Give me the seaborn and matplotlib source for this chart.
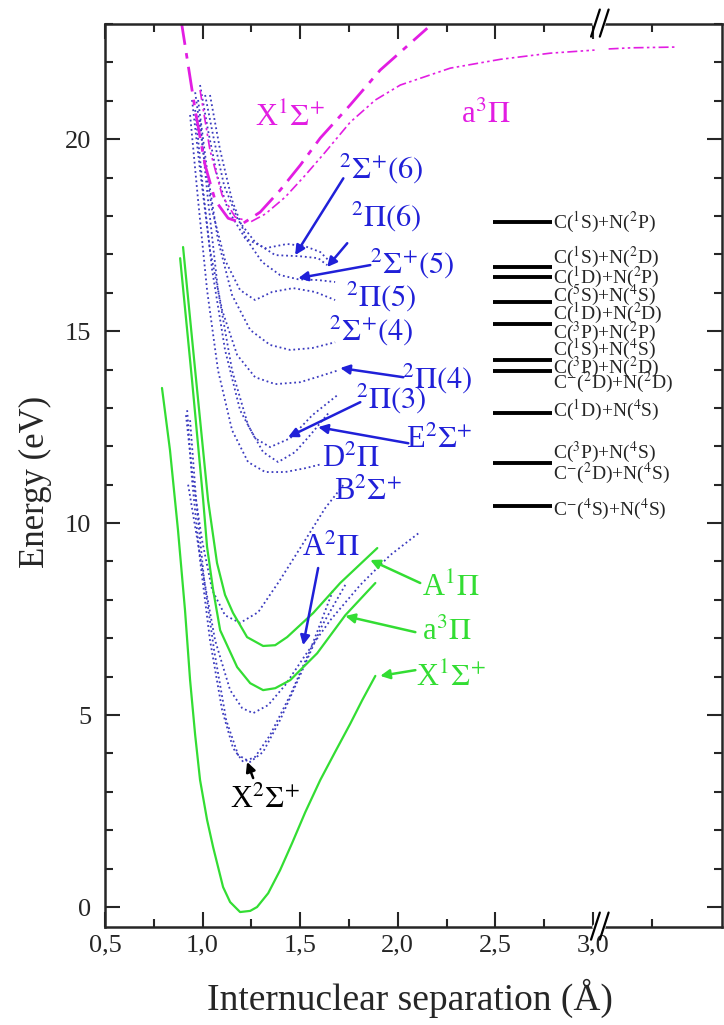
import matplotlib
matplotlib.use("Agg")
import matplotlib.pyplot as plt
import matplotlib.transforms as mtransforms
from matplotlib.ticker import FixedLocator, FixedFormatter, MultipleLocator
import seaborn as sns

# ---- neutral CN (green, solid) ----
x1s_r = [0.792, 0.833, 0.874, 0.910, 0.936, 0.962, 0.987, 1.023, 1.054, 1.105, 1.141, 1.192,
         1.244, 1.279, 1.336, 1.397, 1.459, 1.526, 1.603, 1.679, 1.756, 1.818, 1.885]
x1s_e = [13.52, 11.90, 9.82, 7.73, 5.91, 4.48, 3.31, 2.27, 1.56, 0.52, 0.13, -0.13,
         -0.10, 0.00, 0.36, 0.96, 1.67, 2.47, 3.31, 4.04, 4.77, 5.39, 6.02]
a1p_r = [0.900, 0.962, 1.028, 1.074, 1.115, 1.156, 1.228, 1.310, 1.372, 1.433, 1.567, 1.705, 1.895]
a1p_e = [17.19, 13.98, 10.60, 8.96, 8.13, 7.66, 7.03, 6.80, 6.82, 7.03, 7.66, 8.44, 9.35]
a3p_r = [0.885, 0.946, 1.003, 1.023, 1.054, 1.090, 1.177, 1.244, 1.310, 1.372, 1.449, 1.587, 1.731, 1.885]
a3p_e = [16.90, 13.72, 10.60, 9.38, 8.26, 7.21, 6.25, 5.83, 5.65, 5.70, 5.91, 6.61, 7.60, 8.44]

# ---- magenta curves ----
mx_r = [0.890, 0.962, 1.013, 1.064, 1.131, 1.208, 1.295, 1.397, 1.500, 1.603, 1.756, 1.910, 2.151]
mx_e = [23.10, 20.76, 19.32, 18.41, 17.94, 17.81, 18.10, 18.67, 19.32, 20.03, 20.89, 21.80, 22.89]
ma_r = [0.987, 1.038, 1.100, 1.167, 1.244, 1.321, 1.423, 1.526, 1.628, 1.756, 1.885, 2.013, 2.269, 2.526, 2.782, 3.008]
ma_e = [21.28, 19.71, 18.54, 17.97, 17.84, 18.05, 18.49, 19.06, 19.66, 20.44, 21.02, 21.41, 21.85, 22.08, 22.24, 22.32]
ma_tail_r = [3.080, 3.200, 3.320, 3.433]
ma_tail_e = [22.35, 22.38, 22.39, 22.40]

# ---- anion states (blue, dotted) ----
blue_curves = {
    "S6": ([0.987, 1.028, 1.074, 1.131, 1.218, 1.321, 1.433, 1.526, 1.603, 1.654],
           [21.41, 20.23, 19.06, 18.15, 17.42, 17.16, 17.27, 17.21, 17.06, 16.80]),
    "P6": ([1.013, 1.059, 1.110, 1.182, 1.269, 1.372, 1.500, 1.592, 1.638],
           [21.15, 19.97, 18.80, 17.89, 17.32, 16.98, 16.95, 16.90, 16.72]),
    "S5": ([1.038, 1.090, 1.151, 1.228, 1.305, 1.397, 1.490, 1.592, 1.679],
           [21.15, 19.71, 18.41, 17.37, 16.80, 16.46, 16.35, 16.33, 16.28]),
    "P5": ([0.962, 1.003, 1.049, 1.115, 1.192, 1.269, 1.356, 1.464, 1.577, 1.679],
           [21.22, 19.71, 18.15, 16.85, 16.07, 15.81, 16.02, 16.12, 16.02, 15.81]),
    "S4": ([0.977, 1.023, 1.079, 1.151, 1.244, 1.346, 1.449, 1.562, 1.679],
           [21.02, 19.19, 17.37, 15.94, 15.03, 14.64, 14.51, 14.56, 14.71]),
    "P4": ([0.946, 0.987, 1.038, 1.100, 1.177, 1.269, 1.372, 1.500, 1.603, 1.695],
           [21.02, 19.19, 17.11, 15.55, 14.38, 13.80, 13.62, 13.67, 13.83, 13.98]),
    "P3": ([0.962, 1.003, 1.049, 1.115, 1.192, 1.269, 1.346, 1.449, 1.562, 1.690],
           [20.76, 18.67, 16.59, 14.51, 12.94, 12.21, 11.98, 12.21, 12.81, 13.33]),
    "E": ([0.987, 1.028, 1.079, 1.151, 1.233, 1.310, 1.387, 1.474, 1.551, 1.644],
          [20.50, 18.41, 16.07, 13.98, 12.55, 11.85, 11.59, 11.85, 12.29, 12.86]),
    "D": ([0.936, 0.977, 1.023, 1.079, 1.151, 1.233, 1.321, 1.423, 1.526, 1.613],
          [20.63, 18.41, 16.07, 13.98, 12.42, 11.59, 11.33, 11.33, 11.43, 11.54]),
    "B": ([0.915, 0.951, 0.997, 1.049, 1.115, 1.192, 1.285, 1.397, 1.526, 1.628, 1.721],
          [12.81, 11.12, 9.56, 8.26, 7.60, 7.40, 7.68, 8.52, 9.56, 10.39, 10.99]),
    "A": ([0.926, 0.962, 1.008, 1.064, 1.141, 1.203, 1.259, 1.336, 1.423, 1.526, 1.654, 1.808, 1.962, 2.115],
          [11.00, 9.90, 8.52, 6.95, 5.65, 5.18, 5.05, 5.26, 5.78, 6.56, 7.47, 8.39, 9.17, 9.77]),
    "Xa": ([0.921, 0.946, 0.987, 1.038, 1.100, 1.156, 1.208, 1.269, 1.346, 1.449, 1.551, 1.669],
           [12.94, 11.12, 9.04, 6.95, 5.13, 4.14, 3.78, 3.91, 4.48, 5.52, 6.69, 8.26]),
    "Xb": ([0.936, 0.967, 1.008, 1.059, 1.121, 1.182, 1.244, 1.310, 1.397, 1.500, 1.613, 1.731],
           [12.68, 10.60, 8.52, 6.69, 4.87, 3.96, 3.78, 4.04, 4.87, 6.04, 7.34, 8.39]),
}

# ---- dissociation limits ----
limit_e = [17.84, 16.67, 16.41, 15.76, 15.18, 14.24, 13.96, 12.86, 11.56, 10.45]
limit_r0, limit_r1 = 2.49, 2.79
limit_labels = [r"C($^1$S)+N($^2$P)", r"C($^1$S)+N($^2$D)", r"C($^1$D)+N($^2$P)",
                r"C($^5$S)+N($^4$S)", r"C($^1$D)+N($^2$D)", r"C($^3$P)+N($^2$P)",
                r"C($^1$S)+N($^4$S)", r"C($^3$P)+N($^2$D)", r"C$^{-}$($^2$D)+N($^2$D)",
                r"C($^1$D)+N($^4$S)", r"C($^3$P)+N($^4$S)", r"C$^{-}$($^2$D)+N($^4$S)",
                r"C$^{-}$($^4$S)+N($^4$S)"]
limit_label_e = [17.84, 16.93, 16.41, 15.94, 15.47, 14.97, 14.51, 14.06, 13.67,
                 12.94, 11.85, 11.30, 10.36]

x_ticks = [0.5, 1.0, 1.5, 2.0, 2.5, 3.0]
x_ticklabels = ["0,5", "1,0", "1,5", "2,0", "2,5", "3,0"]
x_minor = [0.75, 1.25, 1.75, 2.25, 2.75, 3.3]
y_ticks = [0, 5, 10, 15, 20]

GREEN = "#33dd33"
MAG = "#e21de2"
BLUE_LINE = "#3b3bbf"
BLUE_TXT = "#2020d8"

sns.set_style("ticks")
plt.rcParams["font.family"] = ["Liberation Serif", "DejaVu Serif"]
plt.rcParams["mathtext.fontset"] = "stix"

fig = plt.figure(figsize=(7.24, 10.25), dpi=100)
ax = fig.add_axes([0.145, 0.0956, 0.852, 0.881])

dot = (0, (1, 1.6))
for name, (rr, ee) in blue_curves.items():
    sns.lineplot(x=rr, y=ee, ax=ax, sort=False, estimator=None, color=BLUE_LINE,
                 lw=1.3, linestyle=dot, legend=False)

for rr, ee in [(x1s_r, x1s_e), (a1p_r, a1p_e), (a3p_r, a3p_e)]:
    sns.lineplot(x=rr, y=ee, ax=ax, sort=False, estimator=None, color=GREEN, lw=1.6, legend=False)

sns.lineplot(x=mx_r, y=mx_e, ax=ax, sort=False, estimator=None, color=MAG, lw=2.0,
             linestyle=(0, (9, 3, 2, 3)), legend=False)
for rr, ee in [(ma_r, ma_e), (ma_tail_r, ma_tail_e)]:
    sns.lineplot(x=rr, y=ee, ax=ax, sort=False, estimator=None, color=MAG, lw=1.2,
                 linestyle=(0, (6, 2, 1.5, 2, 1.5, 2)), legend=False)

for e in limit_e:
    ax.plot([limit_r0, limit_r1], [e, e], color="black", lw=2.8, solid_capstyle="butt")
for lab, e in zip(limit_labels, limit_label_e):
    ax.text(limit_r1 + 0.005, e, lab, fontsize=14, ha="left", va="center")

def label(txt, x, y, color, size=22):
    ax.text(x, y, txt, color=color, fontsize=size, ha="center", va="center")

def arrow(tail, tip, color):
    ax.annotate("", xy=tip, xytext=tail,
                arrowprops=dict(arrowstyle="-|>", color=color, lw=1.8,
                                mutation_scale=14, shrinkA=0, shrinkB=0))

label(r"$^2\Sigma^{+}(6)$", 1.915, 19.24, BLUE_TXT)
label(r"$^2\Pi(6)$", 1.941, 17.99, BLUE_TXT)
label(r"$^2\Sigma^{+}(5)$", 2.074, 16.77, BLUE_TXT)
label(r"$^2\Pi(5)$", 1.915, 15.91, BLUE_TXT)
label(r"$^2\Sigma^{+}(4)$", 1.864, 15.03, BLUE_TXT)
label(r"$^2\Pi(4)$", 2.203, 13.78, BLUE_TXT)
label(r"$^2\Pi(3)$", 1.967, 13.26, BLUE_TXT)
label(r"E$^2\Sigma^{+}$", 2.213, 12.16, BLUE_TXT)
label(r"D$^2\Pi$", 1.762, 11.67, BLUE_TXT)
label(r"B$^2\Sigma^{+}$", 1.849, 10.81, BLUE_TXT)
label(r"A$^2\Pi$", 1.659, 9.35, BLUE_TXT)
label(r"X$^2\Sigma^{+}$", 1.321, 2.79, "black")
label(r"A$^1\Pi$", 2.274, 8.31, GREEN)
label(r"a$^3\Pi$", 2.249, 7.16, GREEN)
label(r"X$^1\Sigma^{+}$", 2.274, 5.96, GREEN)
label(r"X$^1\Sigma^{+}$", 1.449, 20.55, MAG)
label(r"a$^3\Pi$", 2.449, 20.63, MAG)

arrow((1.721, 18.98), (1.474, 16.98), BLUE_TXT)
arrow((1.741, 17.29), (1.638, 16.67), BLUE_TXT)
arrow((1.859, 16.72), (1.490, 16.38), BLUE_TXT)
arrow((2.028, 13.80), (1.705, 14.04), BLUE_TXT)
arrow((1.808, 13.15), (1.438, 12.24), BLUE_TXT)
arrow((2.054, 12.08), (1.592, 12.50), BLUE_TXT)
arrow((1.592, 8.83), (1.515, 6.82), BLUE_TXT)
arrow((1.259, 3.36), (1.228, 3.78), "black")
arrow((2.115, 8.44), (1.859, 9.04), GREEN)
arrow((2.090, 7.16), (1.731, 7.58), GREEN)
arrow((2.090, 6.17), (1.910, 6.02), GREEN)

ax.set_xlim(0.5, 3.66)
ax.set_ylim(-0.52, 23.0)
ax.xaxis.set_major_locator(FixedLocator(x_ticks))
ax.xaxis.set_major_formatter(FixedFormatter(x_ticklabels))
ax.xaxis.set_minor_locator(FixedLocator(x_minor))
ax.yaxis.set_major_locator(FixedLocator(y_ticks))
ax.yaxis.set_minor_locator(MultipleLocator(1))
ax.tick_params(which="both", direction="in", top=True, right=True, width=1.5, labelsize=19)
ax.tick_params(which="major", length=11)
ax.tick_params(which="minor", length=6)
ax.tick_params(axis="y", pad=10)
ax.tick_params(axis="x", pad=5)
for sp in ax.spines.values():
    sp.set_linewidth(1.8)

# axis break marks at 3.0
trans = mtransforms.blended_transform_factory(ax.transData, ax.transAxes)
for yb in (0.0, 1.0):
    ax.plot([3.012, 3.052], [yb, yb], color="white", lw=4, transform=trans, clip_on=False, zorder=5)
    for dx in (0.0, 0.045):
        ax.plot([2.99 + dx, 3.035 + dx], [yb - 0.014, yb + 0.016], color="black", lw=1.6,
                transform=trans, clip_on=False, zorder=6)

ax.set_xlabel("Internuclear separation (Å)", fontsize=27)
ax.set_ylabel("Energy (eV)", fontsize=25)
ax.xaxis.set_label_coords(0.494, -0.057)
ax.yaxis.set_label_coords(-0.086, 0.493)

fig.savefig("out.png", dpi=100)
